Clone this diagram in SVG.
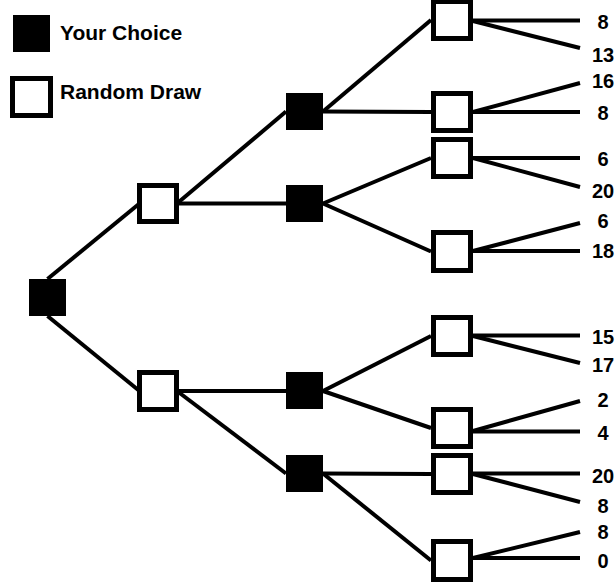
<svg xmlns="http://www.w3.org/2000/svg" width="615" height="583" viewBox="0 0 615 583">
<style>
.e{stroke:#000;stroke-width:4;fill:none}
.c{fill:#000}
.r{fill:#fff;stroke:#000;stroke-width:5}
.t{font-family:"Liberation Sans",Arial,sans-serif;font-weight:bold;font-size:21px;fill:#000}
.n{font-family:"Liberation Sans",Arial,sans-serif;font-weight:bold;font-size:20px;fill:#000;text-anchor:middle}
</style>
<rect width="615" height="583" fill="#fff"/>
<g id="legend">
<rect class="c" x="13" y="15" width="37" height="37"/>
<text class="t" x="60" y="39.5">Your Choice</text>
<rect class="r" x="12.5" y="78.5" width="38" height="37"/>
<text class="t" x="60" y="98.5">Random Draw</text>
</g>
<g id="connectors">
<line class="e" x1="47.5" y1="279" x2="139.5" y2="203.5"/>
<line class="e" x1="47.5" y1="316" x2="139.5" y2="391"/>
<line class="e" x1="177" y1="203.5" x2="286" y2="111.5"/>
<line class="e" x1="177" y1="203.5" x2="286" y2="203.5"/>
<line class="e" x1="177" y1="391" x2="286" y2="391"/>
<line class="e" x1="177" y1="391" x2="286" y2="473.5"/>
<line class="e" x1="323" y1="111.5" x2="431" y2="20"/>
<line class="e" x1="323" y1="111.5" x2="431" y2="112"/>
<line class="e" x1="323" y1="203.5" x2="431" y2="158"/>
<line class="e" x1="323" y1="203.5" x2="431" y2="251.5"/>
<line class="e" x1="323" y1="391" x2="431" y2="336"/>
<line class="e" x1="323" y1="391" x2="431" y2="428"/>
<line class="e" x1="323" y1="473.5" x2="431" y2="474"/>
<line class="e" x1="323" y1="473.5" x2="431" y2="560.5"/>
<line class="e" x1="473" y1="20.5" x2="580" y2="20.5"/>
<line class="e" x1="473" y1="21" x2="580" y2="48"/>
<line class="e" x1="473" y1="112" x2="580" y2="83"/>
<line class="e" x1="473" y1="112" x2="580" y2="112"/>
<line class="e" x1="473" y1="158" x2="580" y2="158"/>
<line class="e" x1="473" y1="158" x2="580" y2="187"/>
<line class="e" x1="473" y1="251" x2="580" y2="223"/>
<line class="e" x1="473" y1="251" x2="580" y2="251"/>
<line class="e" x1="473" y1="335.5" x2="580" y2="335.5"/>
<line class="e" x1="473" y1="336" x2="580" y2="363"/>
<line class="e" x1="473" y1="431" x2="580" y2="401"/>
<line class="e" x1="473" y1="431.5" x2="580" y2="431.5"/>
<line class="e" x1="473" y1="473.5" x2="580" y2="473.5"/>
<line class="e" x1="473" y1="474" x2="580" y2="502"/>
<line class="e" x1="473" y1="558" x2="580" y2="532"/>
<line class="e" x1="473" y1="558" x2="580" y2="558"/>
</g>
<g id="root"><rect class="c" x="29" y="279" width="37" height="37"/></g>
<g id="draw1a"><rect class="r" x="139.5" y="185.5" width="37" height="36"/></g>
<g id="draw1b"><rect class="r" x="139.5" y="372.5" width="37" height="37"/></g>
<g id="choice2a"><rect class="c" x="286" y="93" width="37" height="37"/></g>
<g id="choice2b"><rect class="c" x="286" y="185" width="37" height="37"/></g>
<g id="choice2c"><rect class="c" x="286" y="372" width="37" height="37"/></g>
<g id="choice2d"><rect class="c" x="286" y="455" width="37" height="37"/></g>
<g id="draw3a"><rect class="r" x="433.5" y="1.5" width="37" height="37"/></g>
<g id="draw3b"><rect class="r" x="433.5" y="93.5" width="37" height="37"/></g>
<g id="draw3c"><rect class="r" x="433.5" y="139.5" width="37" height="37"/></g>
<g id="draw3d"><rect class="r" x="433.5" y="232.5" width="37" height="38"/></g>
<g id="draw3e"><rect class="r" x="433.5" y="317.5" width="37" height="37"/></g>
<g id="draw3f"><rect class="r" x="433.5" y="409.5" width="37" height="37"/></g>
<g id="draw3g"><rect class="r" x="433.5" y="455.5" width="37" height="37"/></g>
<g id="draw3h"><rect class="r" x="433.5" y="541.5" width="37" height="38"/></g>
<g id="payoffs">
<text class="n" x="603" y="29">8</text>
<text class="n" x="603" y="62">13</text>
<text class="n" x="603" y="88">16</text>
<text class="n" x="603" y="120">8</text>
<text class="n" x="603" y="166">6</text>
<text class="n" x="603" y="198">20</text>
<text class="n" x="603" y="228">6</text>
<text class="n" x="603" y="258">18</text>
<text class="n" x="603" y="344">15</text>
<text class="n" x="603" y="372">17</text>
<text class="n" x="603" y="407">2</text>
<text class="n" x="603" y="440">4</text>
<text class="n" x="603" y="483">20</text>
<text class="n" x="603" y="513">8</text>
<text class="n" x="603" y="539">8</text>
<text class="n" x="603" y="568">0</text>
</g>
</svg>
